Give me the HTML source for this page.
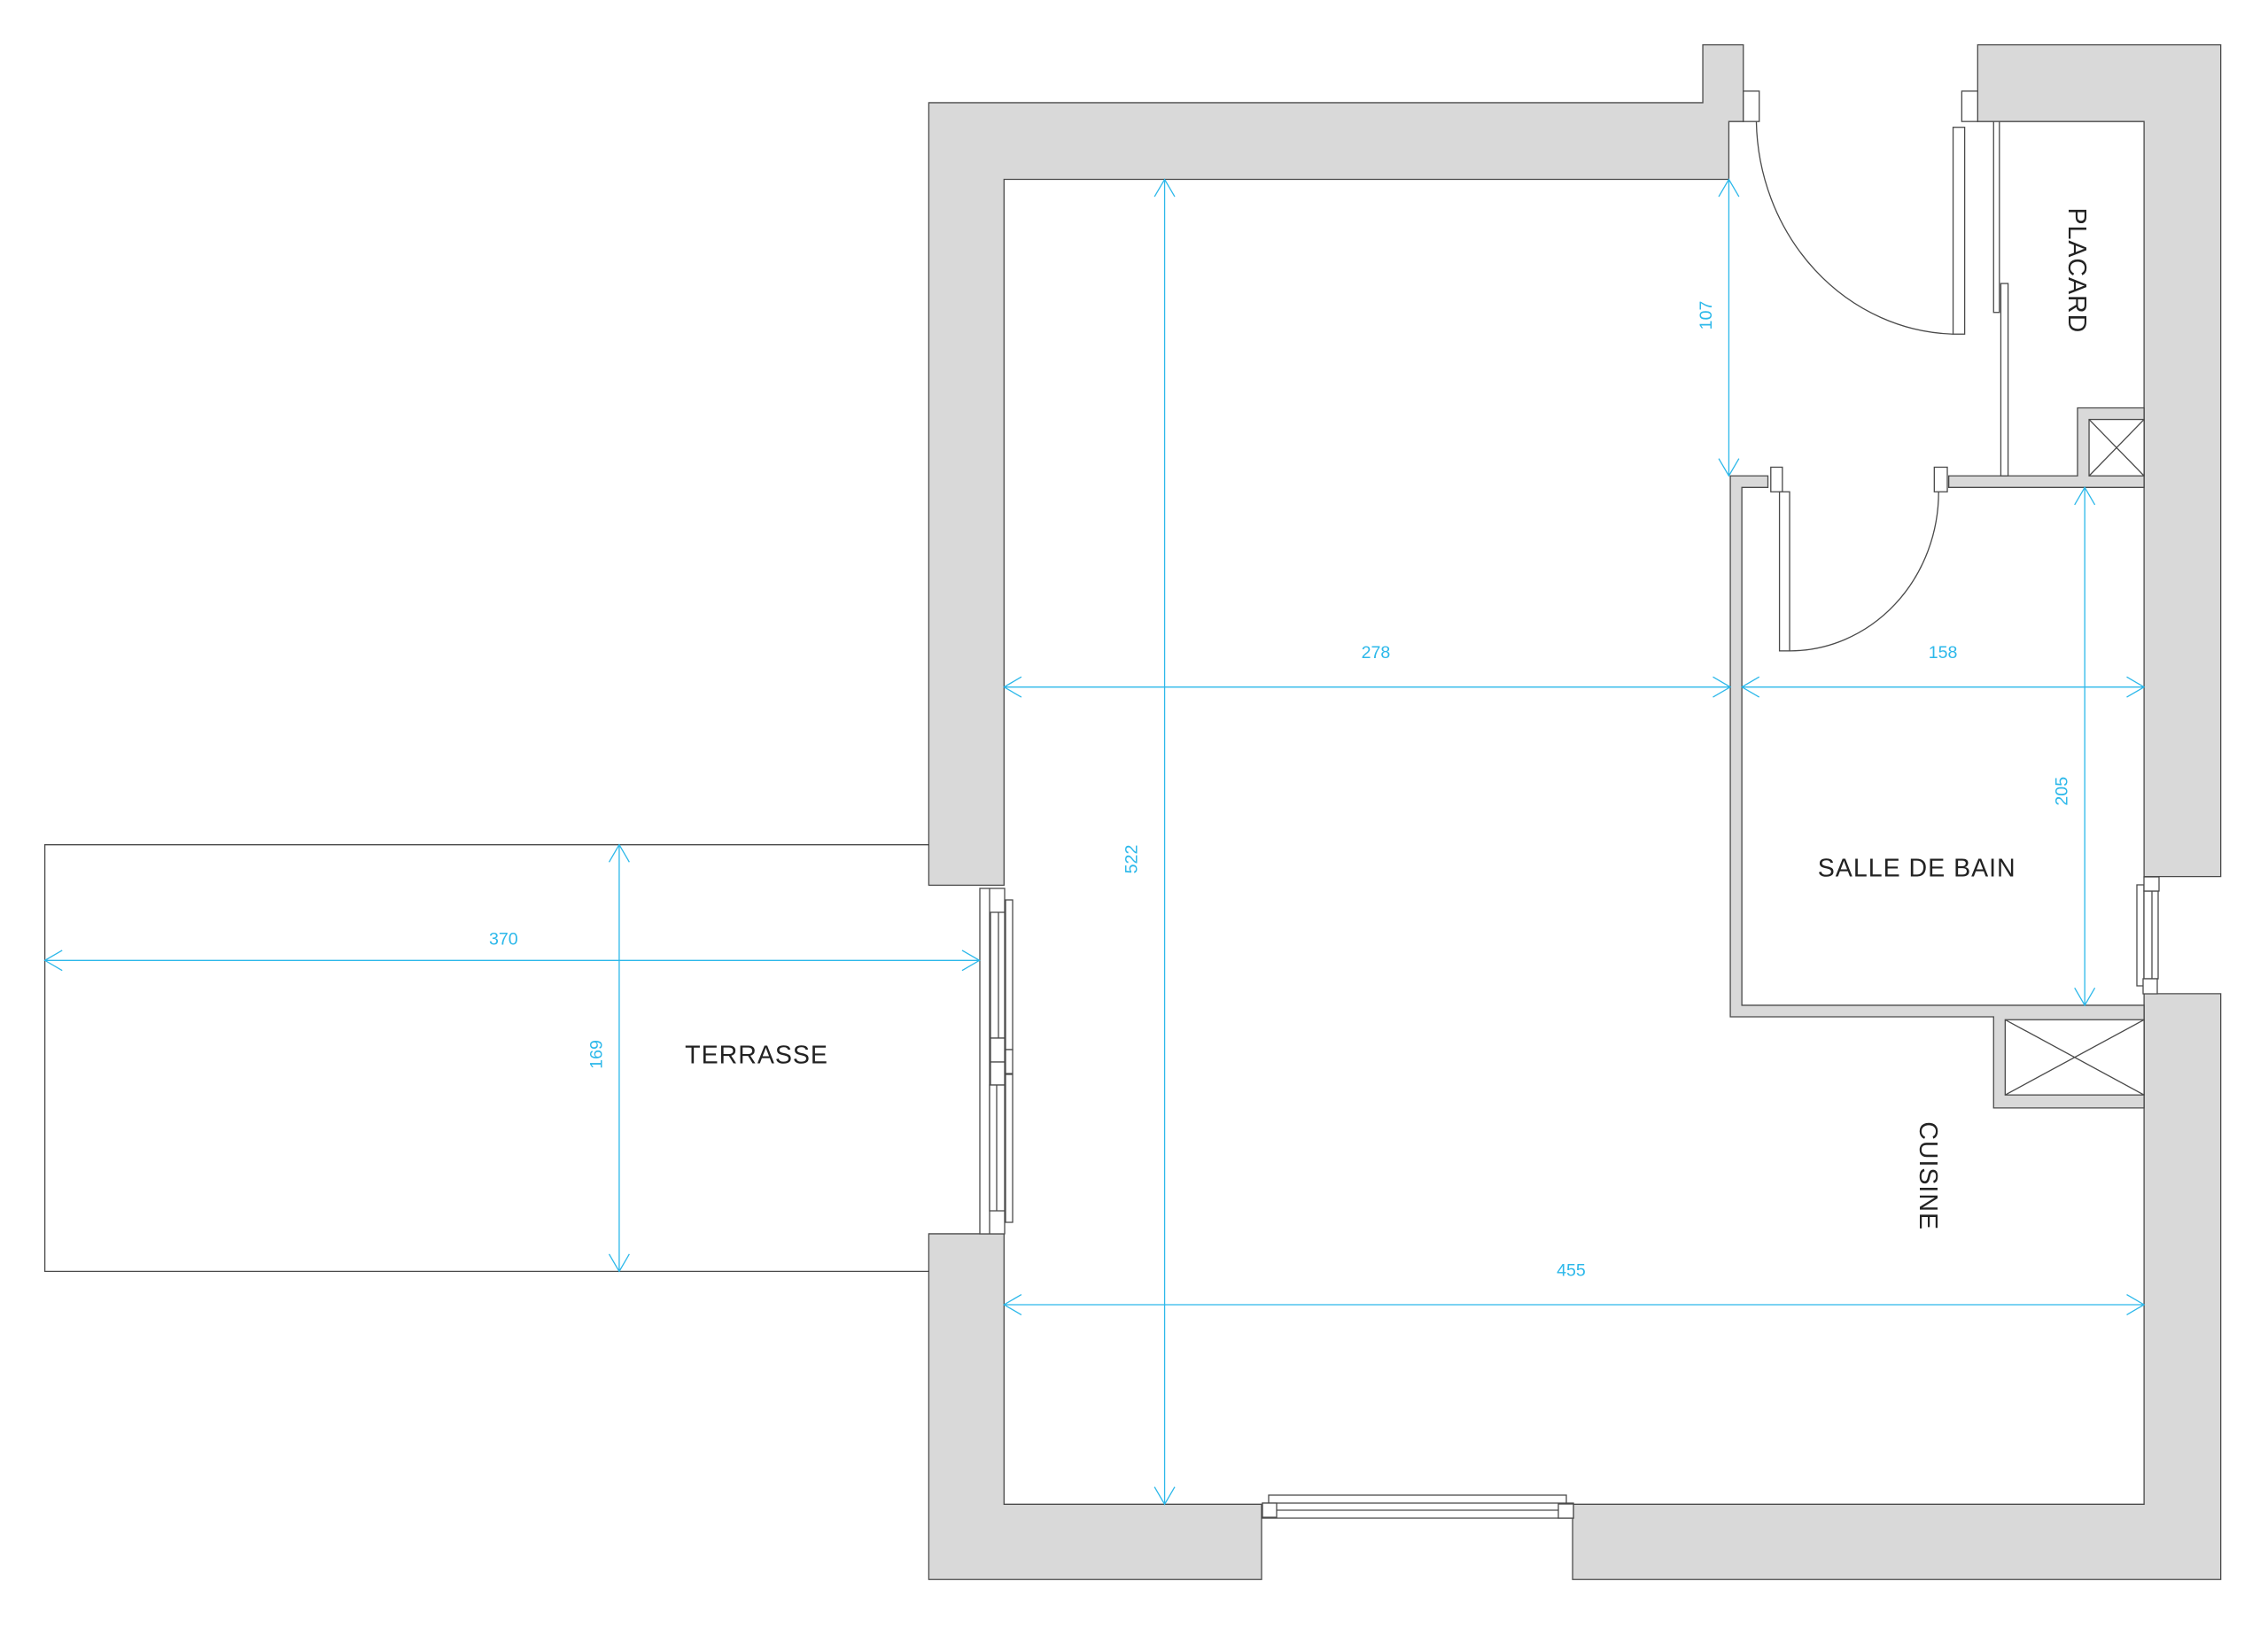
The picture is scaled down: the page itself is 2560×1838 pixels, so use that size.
<!DOCTYPE html>
<html><head><meta charset="utf-8"><style>
html,body{margin:0;padding:0;background:#fff;}
svg{display:block;}
text{font-family:"Liberation Sans",sans-serif;}
</style></head><body>
<svg width="2560" height="1838" viewBox="0 0 2560 1838" xmlns="http://www.w3.org/2000/svg">
<g transform="scale(1.633)" stroke="#4a4a4a" stroke-width="0.8" fill="none">
  <!-- terrace -->
  <polyline points="642,584 31,584 31,879 642,879"/>
  <!-- walls -->
  <g fill="#d9d9d9">
    <polygon points="642,71 1177,71 1177,31 1205,31 1205,84 1195,84 1195,124 694,124 694,612 642,612"/>
    <polygon points="642,853 694,853 694,1040 872,1040 872,1092 642,1092"/>
    <polygon points="1087,1040 1482,1040 1482,687 1535,687 1535,1092 1087,1092"/>
    <polygon points="1367,31 1535,31 1535,606 1482,606 1482,84 1367,84"/>
    <polygon points="1196,329 1222,329 1222,337 1204,337 1204,695 1482,695 1482,766 1378,766 1378,703 1196,703"/>
    <polygon points="1347,329 1436,329 1436,282 1482,282 1482,337 1347,337"/>
  </g>
  <!-- shafts -->
  <rect x="1444" y="290" width="38" height="39" fill="#fff"/>
  <path d="M1444 290 L1482 329 M1482 290 L1444 329"/>
  <rect x="1386" y="705" width="96" height="52" fill="#fff"/>
  <path d="M1386 705 L1482 757 M1482 705 L1386 757"/>
  <!-- entrance door -->
  <rect x="1205" y="63" width="11" height="21" fill="#fff"/>
  <rect x="1356" y="63" width="11" height="21" fill="#fff"/>
  <rect x="1350" y="88" width="8" height="143" fill="#fff"/>
  <path d="M1214 84 A140 150 0 0 0 1350 231"/>
  <!-- placard sliding doors -->
  <rect x="1378" y="84" width="4" height="132" fill="#fff"/>
  <rect x="1383" y="196" width="5" height="133" fill="#fff"/>
  <!-- bath door -->
  <rect x="1224" y="323" width="8" height="17" fill="#fff"/>
  <rect x="1337" y="323" width="9" height="17" fill="#fff"/>
  <rect x="1230" y="340" width="7" height="110" fill="#fff"/>
  <path d="M1340 340 A103 110 0 0 1 1237 450"/>
</g>
<!-- windows in actual coordinates -->
<g stroke="#4a4a4a" stroke-width="1.3" fill="#fff">
  <rect x="1106" y="1003" width="28" height="390"/>
  <line x1="1117" y1="1003" x2="1117" y2="1393"/>
  <rect x="1118" y="1030" width="16" height="142"/>
  <line x1="1127" y1="1030" x2="1127" y2="1172"/>
  <rect x="1118" y="1172" width="16" height="27"/>
  <rect x="1118" y="1199" width="16" height="26"/>
  <rect x="1117" y="1225" width="17" height="142"/>
  <line x1="1125" y1="1225" x2="1125" y2="1367"/>
  <rect x="1135" y="1016" width="8" height="169"/>
  <rect x="1135" y="1185" width="8" height="27"/>
  <rect x="1135" y="1213" width="8" height="167"/>

  <rect x="1432" y="1688" width="336" height="10"/>
  <rect x="1425" y="1697" width="351" height="17"/>
  <line x1="1441" y1="1705" x2="1759" y2="1705"/>
  <rect x="1425" y="1697" width="16" height="16"/>
  <rect x="1759" y="1698" width="17" height="16"/>

  <rect x="2412" y="999" width="8" height="114"/>
  <rect x="2420" y="1006" width="16" height="99"/>
  <line x1="2429" y1="1006" x2="2429" y2="1105"/>
  <rect x="2420" y="990" width="17" height="16"/>
  <rect x="2419" y="1105" width="16" height="17"/>
</g>
<!-- dimensions -->
<g transform="scale(1.633)" stroke="#2cb8ea" stroke-width="0.8" fill="none">
  <path d="M805 124 V1040 M798 136 L805 124 L812 136 M798 1028 L805 1040 L812 1028"/>
  <path d="M1195 124 V329 M1188 136 L1195 124 L1202 136 M1188 317 L1195 329 L1202 317"/>
  <path d="M694 475 H1196 M706 468 L694 475 L706 482 M1184 468 L1196 475 L1184 482"/>
  <path d="M1204 475 H1482 M1216 468 L1204 475 L1216 482 M1470 468 L1482 475 L1470 482"/>
  <path d="M1441 337 V695 M1434 349 L1441 337 L1448 349 M1434 683 L1441 695 L1448 683"/>
  <path d="M31 664 H677 M43 657 L31 664 L43 671 M665 657 L677 664 L665 671"/>
  <path d="M428 584 V879 M421 596 L428 584 L435 596 M421 867 L428 879 L435 867"/>
  <path d="M694 902 H1482 M706 895 L694 902 L706 909 M1470 895 L1482 902 L1470 909"/>
</g>
<g transform="scale(1.633)" fill="#2cb8ea" font-size="12" text-anchor="middle">
  <text x="951" y="455">278</text>
  <text x="1343" y="455">158</text>
  <text x="348" y="653">370</text>
  <text x="1086" y="882">455</text>
  <text transform="translate(786,594) rotate(-90)">522</text>
  <text transform="translate(1183,218) rotate(-90)">107</text>
  <text transform="translate(1429,547) rotate(-90)">205</text>
  <text transform="translate(416,729) rotate(-90)">169</text>
</g>
<g transform="scale(1.633)" fill="#222" font-size="17.5" text-anchor="middle" letter-spacing="0.6">
  <text x="523" y="735">TERRASSE</text>
  <text x="1325" y="606">SALLE DE BAIN</text>
  <text transform="translate(1327,813) rotate(90)">CUISINE</text>
  <text transform="translate(1430,187) rotate(90)">PLACARD</text>
</g>
</svg>
</body></html>
